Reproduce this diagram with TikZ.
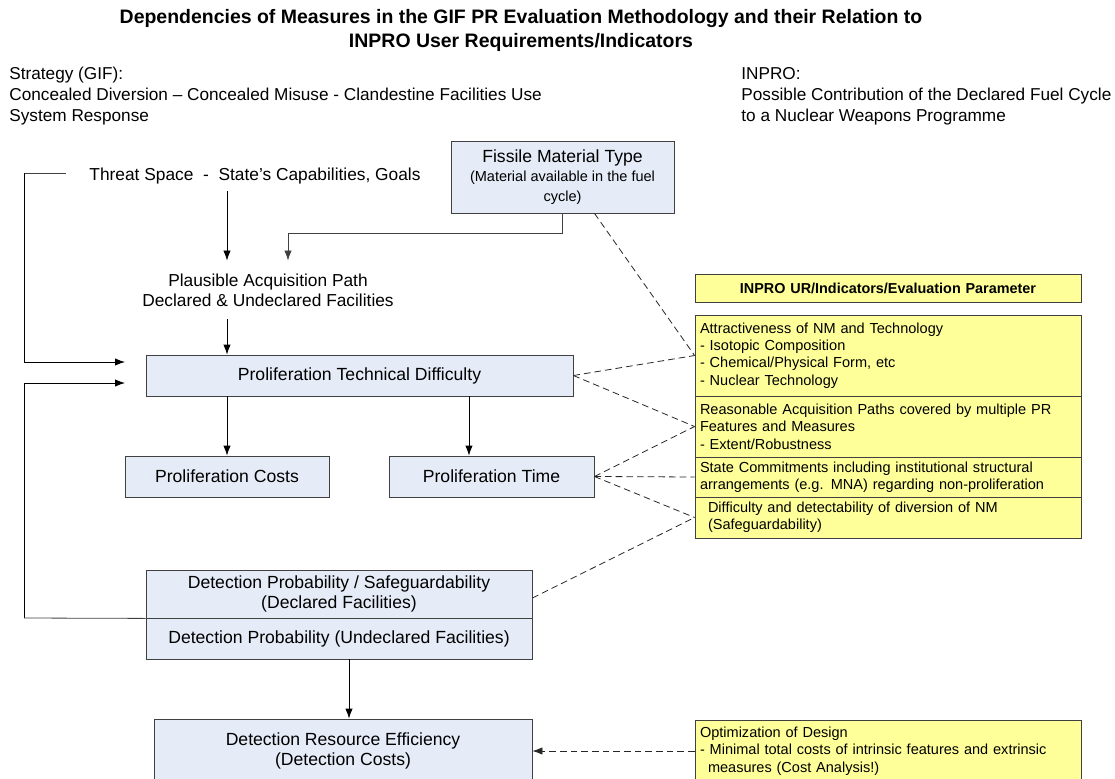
\documentclass[tikz,border=0pt]{standalone}
\usepackage{fontspec}
\setmainfont{Liberation Sans}
\usetikzlibrary{arrows.meta}
\definecolor{boxblue}{HTML}{E6ECF7}
\definecolor{boxyellow}{HTML}{FFFF99}
\definecolor{boxline}{HTML}{404040}

\begin{document}
\begin{tikzpicture}[x=0.75pt,y=-0.75pt,>={Latex[length=7.5pt,width=5.5pt]},line width=0.6pt,
  bluebox/.style={draw=boxline,fill=boxblue,rectangle,align=center,inner sep=2pt,font=\fontsize{13.2}{15}\selectfont},
  yellowbox/.style={draw=boxline,fill=boxyellow,rectangle,align=left,inner sep=0pt,
    text width=282pt,minimum width=289.5pt,font=\fontsize{10.9}{13}\selectfont},
  plaintext/.style={align=left,inner sep=0pt,font=\fontsize{12.9}{15.75}\selectfont},
  dashrel/.style={dash pattern=on 5pt off 3pt,draw=black!85}]
\useasboundingbox (0,0) rectangle (1115,779);

\node (title) [align=center,font=\fontsize{14.6}{18}\selectfont\bfseries] at (521,30)
  {Dependencies of Measures in the GIF PR Evaluation Methodology and their Relation to\\
   INPRO User Requirements/Indicators};
\node (gif) [plaintext,anchor=north west] at (9,67)
  {Strategy (GIF):\\Concealed Diversion -- Concealed Misuse - Clandestine Facilities Use\\System Response};
\node (inpro) [plaintext,anchor=north west] at (741,67)
  {INPRO:\\Possible Contribution of the Declared Fuel Cycle\\to a Nuclear Weapons Programme};

% left column
\node (threat) [bluebox,draw=none,fill=none,inner sep=5pt,font=\fontsize{13}{15}\selectfont] at (255,176) {Threat Space \ - \ State's Capabilities, Goals};
\node (fissile) [bluebox,minimum width=167.25pt,minimum height=54pt] at (562.5,177)
  {Fissile Material Type\\[-1pt]{\fontsize{10.9}{13}\selectfont(Material available in the fuel}\\{\fontsize{10.9}{13}\selectfont cycle)}};
\node (plaus) [bluebox,draw=none,fill=none,inner ysep=9.5pt,font=\fontsize{13}{15}\selectfont] at (268,290)
  {Plausible Acquisition Path\\Declared \& Undeclared Facilities};
\node (ptd) [bluebox,minimum width=320.25pt,minimum height=30.75pt] at (359.5,375.5) {Proliferation Technical Difficulty};
\node (costs) [bluebox,minimum width=153pt,minimum height=30.75pt] at (227,476.5) {Proliferation Costs};
\node (time) [bluebox,minimum width=153.75pt,minimum height=30.75pt] at (491.5,476.5) {Proliferation Time};
\node (det1) [bluebox,minimum width=289.5pt,minimum height=36pt] at (339,594)
  {Detection Probability / Safeguardability\\(Declared Facilities)};
\node (det2) [bluebox,minimum width=289.5pt,minimum height=30.75pt] at (339,638.5)
  {Detection Probability (Undeclared Facilities)};
\node (dre) [bluebox,minimum width=283.5pt,minimum height=48pt] at (343,751)
  {Detection Resource Efficiency\\(Detection Costs)};

% INPRO column
\node (head) [yellowbox,align=center,minimum height=21pt,font=\fontsize{10.8}{13}\selectfont\bfseries] at (888,288)
  {INPRO UR/Indicators/Evaluation Parameter};
\node (attr) [yellowbox,minimum height=60.75pt] at (888,355.5)
  {Attractiveness of NM and Technology\\- Isotopic Composition\\- Chemical/Physical Form, etc\\- Nuclear Technology};
\node (acq) [yellowbox,minimum height=45.75pt] at (888,426.5)
  {Reasonable Acquisition Paths covered by multiple PR\\Features and Measures\\- Extent/Robustness};
\node (commit) [yellowbox,minimum height=30pt] at (888,477)
  {State Commitments including institutional structural\\arrangements (e.g. MNA) regarding non-proliferation};
\node (safeg) [yellowbox,minimum height=30.75pt] at (888,517.5)
  {\hspace{6pt}Difficulty and detectability of diversion of NM\\\hspace{6pt}(Safeguardability)};
\node (optim) [yellowbox,minimum height=46pt] at (888,751)
  {Optimization of Design\\- Minimal total costs of intrinsic features and extrinsic\\\hspace{6pt}measures (Cost Analysis!)};

% bracket ends
\coordinate (t0) at (66,173);
\coordinate (c1) at (24,173);
\coordinate (c2) at (24,618);
\coordinate (a1) at (125,362);
\coordinate (a2) at (125,383);
\coordinate (f1) at (288,233);

\draw [boxline] (t0) -- (c1);
\draw [->] (c1) |- (a1);
\draw [->] (c2) |- (a2);
\draw [boxline] (det1.south west) -- (c2);
\draw [->] (threat.south -| costs) -- (plaus.north -| costs);
\draw [->,boxline] (fissile.south) |- (f1) -- (f1 |- plaus.north);
\draw [->] (plaus.south -| costs) -- (ptd.north -| costs);
\draw [->] (ptd.south -| costs) -- (costs);
\draw [->] ([xshift=-16.9pt]time.north |- ptd.south) -- ([xshift=-16.9pt]time.north);
\draw [->] ([xshift=7.5pt]det2.south) -- ([xshift=7.5pt]det2.south |- dre.north);

% dashed relations
\draw [dashrel] ([xshift=24pt]fissile.south) -- (attr.west);
\draw [dashrel] (ptd.east) -- (attr.west);
\draw [dashrel] (ptd.east) -- (acq.west);
\draw [dashrel] (time.east) -- (acq.west);
\draw [dashrel] (time.east) -- (commit.west);
\draw [dashrel] (time.east) -- (safeg.west);
\draw [dashrel] ([yshift=-3pt]det1.east) -- (safeg.west);
\draw [dashrel,->] (optim.west) -- (dre.east);
\end{tikzpicture}
\end{document}
